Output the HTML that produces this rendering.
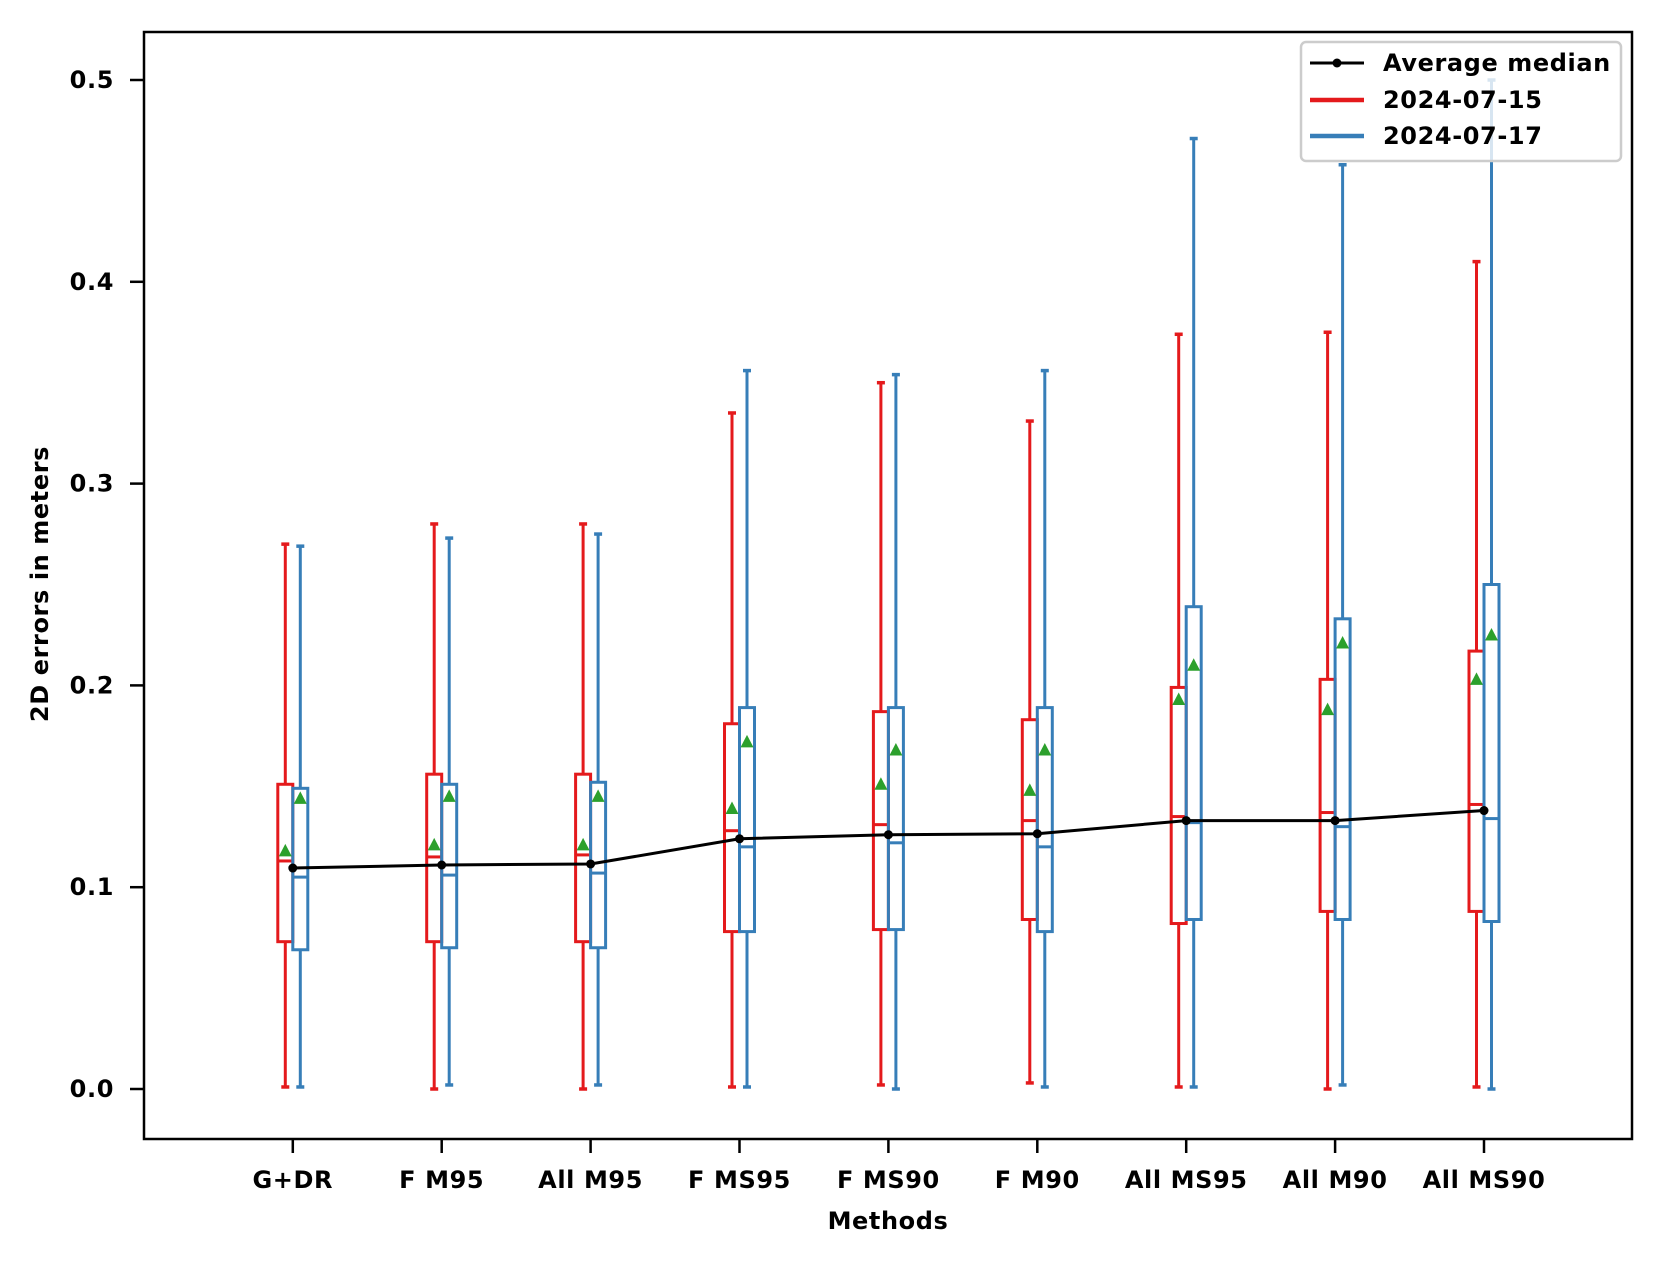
<!DOCTYPE html>
<html><head><meta charset="utf-8"><style>
html,body{margin:0;padding:0;background:#fff;}
svg{display:block;font-family:"DejaVu Sans","Liberation Sans",sans-serif;font-weight:bold;}
</style></head><body>
<svg id="s" width="1663" height="1264" viewBox="0 0 1663 1264" xmlns="http://www.w3.org/2000/svg">
<rect x="0" y="0" width="1663" height="1264" fill="#fff"/>
<g id="plot"></g>
<rect x="144" y="32" width="1488" height="1107" fill="none" stroke="#000" stroke-width="2.5"/>
<g id="ticks"></g>
<text x="888" y="1229" font-size="24" letter-spacing="0.6" text-anchor="middle">Methods</text>
<text transform="translate(48,584) rotate(-90)" font-size="24" letter-spacing="0.6" text-anchor="middle">2D errors in meters</text>
<g>
<rect x="1301" y="42" width="320" height="119" rx="5" fill="#fff" fill-opacity="0.8" stroke="#ccc" stroke-width="2.5"/>
<line x1="1310" y1="63" x2="1364" y2="63" stroke="#000" stroke-width="3"/>
<circle cx="1337" cy="63" r="4.5" fill="#000"/>
<line x1="1310" y1="100" x2="1364" y2="100" stroke="#e41a1c" stroke-width="4.5"/>
<line x1="1310" y1="136" x2="1364" y2="136" stroke="#377eb8" stroke-width="4.5"/>
<text x="1383" y="71" font-size="24" letter-spacing="0.6">Average median</text>
<text x="1383" y="108" font-size="24" letter-spacing="0.6">2024-07-15</text>
<text x="1383" y="144" font-size="24" letter-spacing="0.6">2024-07-17</text>
</g>
</svg>
<script>
(function(){
var NS="http://www.w3.org/2000/svg";
function el(p,t,a,txt){var e=document.createElementNS(NS,t);for(var k in a)e.setAttribute(k,a[k]);if(txt!==undefined)e.textContent=txt;p.appendChild(e);return e;}
function Y(v){return 1089-v*2018;}
var names=["G+DR","F M95","All M95","F MS95","F MS90","F M90","All MS95","All M90","All MS90"];
var red=[[0.270,0.151,0.113,0.073,0.001,0.118],[0.280,0.156,0.115,0.073,0,0.121],[0.280,0.156,0.116,0.073,0,0.121],
[0.335,0.181,0.128,0.078,0.001,0.139],[0.350,0.187,0.131,0.079,0.002,0.151],[0.331,0.183,0.133,0.084,0.003,0.148],
[0.374,0.199,0.135,0.082,0.001,0.193],[0.375,0.203,0.137,0.088,0,0.188],[0.410,0.217,0.141,0.088,0.001,0.203]];
var blue=[[0.269,0.149,0.105,0.069,0.001,0.144],[0.273,0.151,0.106,0.070,0.002,0.145],[0.275,0.152,0.107,0.070,0.002,0.145],
[0.356,0.189,0.120,0.078,0.001,0.172],[0.354,0.189,0.122,0.079,0,0.168],[0.356,0.189,0.120,0.078,0.001,0.168],
[0.471,0.239,0.132,0.084,0.001,0.210],[0.458,0.233,0.130,0.084,0.002,0.221],[0.500,0.250,0.134,0.083,0,0.225]];
var avg=[0.1095,0.111,0.1115,0.124,0.126,0.1265,0.133,0.133,0.138];
var P=document.getElementById("plot"),T=document.getElementById("ticks");
function box(cx,d,col){
  var w=15,sw=3;
  el(P,"line",{x1:cx,y1:Y(d[0]),x2:cx,y2:Y(d[1]),stroke:col,"stroke-width":sw});
  el(P,"line",{x1:cx,y1:Y(d[3]),x2:cx,y2:Y(d[4]),stroke:col,"stroke-width":sw});
  el(P,"line",{x1:cx-4,y1:Y(d[0]),x2:cx+4,y2:Y(d[0]),stroke:col,"stroke-width":sw+0.5});
  el(P,"line",{x1:cx-4,y1:Y(d[4]),x2:cx+4,y2:Y(d[4]),stroke:col,"stroke-width":sw+0.5});
  el(P,"rect",{x:cx-w/2,y:Y(d[1]),width:w,height:Y(d[3])-Y(d[1]),fill:"none",stroke:col,"stroke-width":sw});
  el(P,"line",{x1:cx-w/2,y1:Y(d[2]),x2:cx+w/2,y2:Y(d[2]),stroke:col,"stroke-width":sw});
}
function tri(cx,v){var y=Y(v);el(P,"polygon",{points:(cx-6.5)+","+(y+5.5)+" "+(cx+6.5)+","+(y+5.5)+" "+cx+","+(y-7),fill:"#2ca02c"});}
var pts=[];
for(var i=0;i<9;i++){
  var x=292.8+i*148.9;
  box(x-7.5,red[i],"#e41a1c");
  box(x+7.5,blue[i],"#377eb8");
  tri(x-7.5,red[i][5]);tri(x+7.5,blue[i][5]);
  pts.push(x+","+Y(avg[i]));
  el(T,"line",{x1:x,y1:1139,x2:x,y2:1153,stroke:"#000","stroke-width":2.5});
  el(T,"text",{x:x,y:1188,"font-size":"24","letter-spacing":"0.6","text-anchor":"middle"},names[i]);
}
el(P,"polyline",{points:pts.join(" "),fill:"none",stroke:"#000","stroke-width":3});
for(var i=0;i<9;i++){var xy=pts[i].split(",");el(P,"circle",{cx:xy[0],cy:xy[1],r:4.5,fill:"#000"});}
for(var j=0;j<=5;j++){var y=Y(j/10);
  el(T,"line",{x1:130,y1:y,x2:144,y2:y,stroke:"#000","stroke-width":2.5});
  el(T,"text",{x:114,y:y+8,"font-size":"24","letter-spacing":"0.6","text-anchor":"end"},(j/10).toFixed(1));
}
})();
</script>
</body></html>
